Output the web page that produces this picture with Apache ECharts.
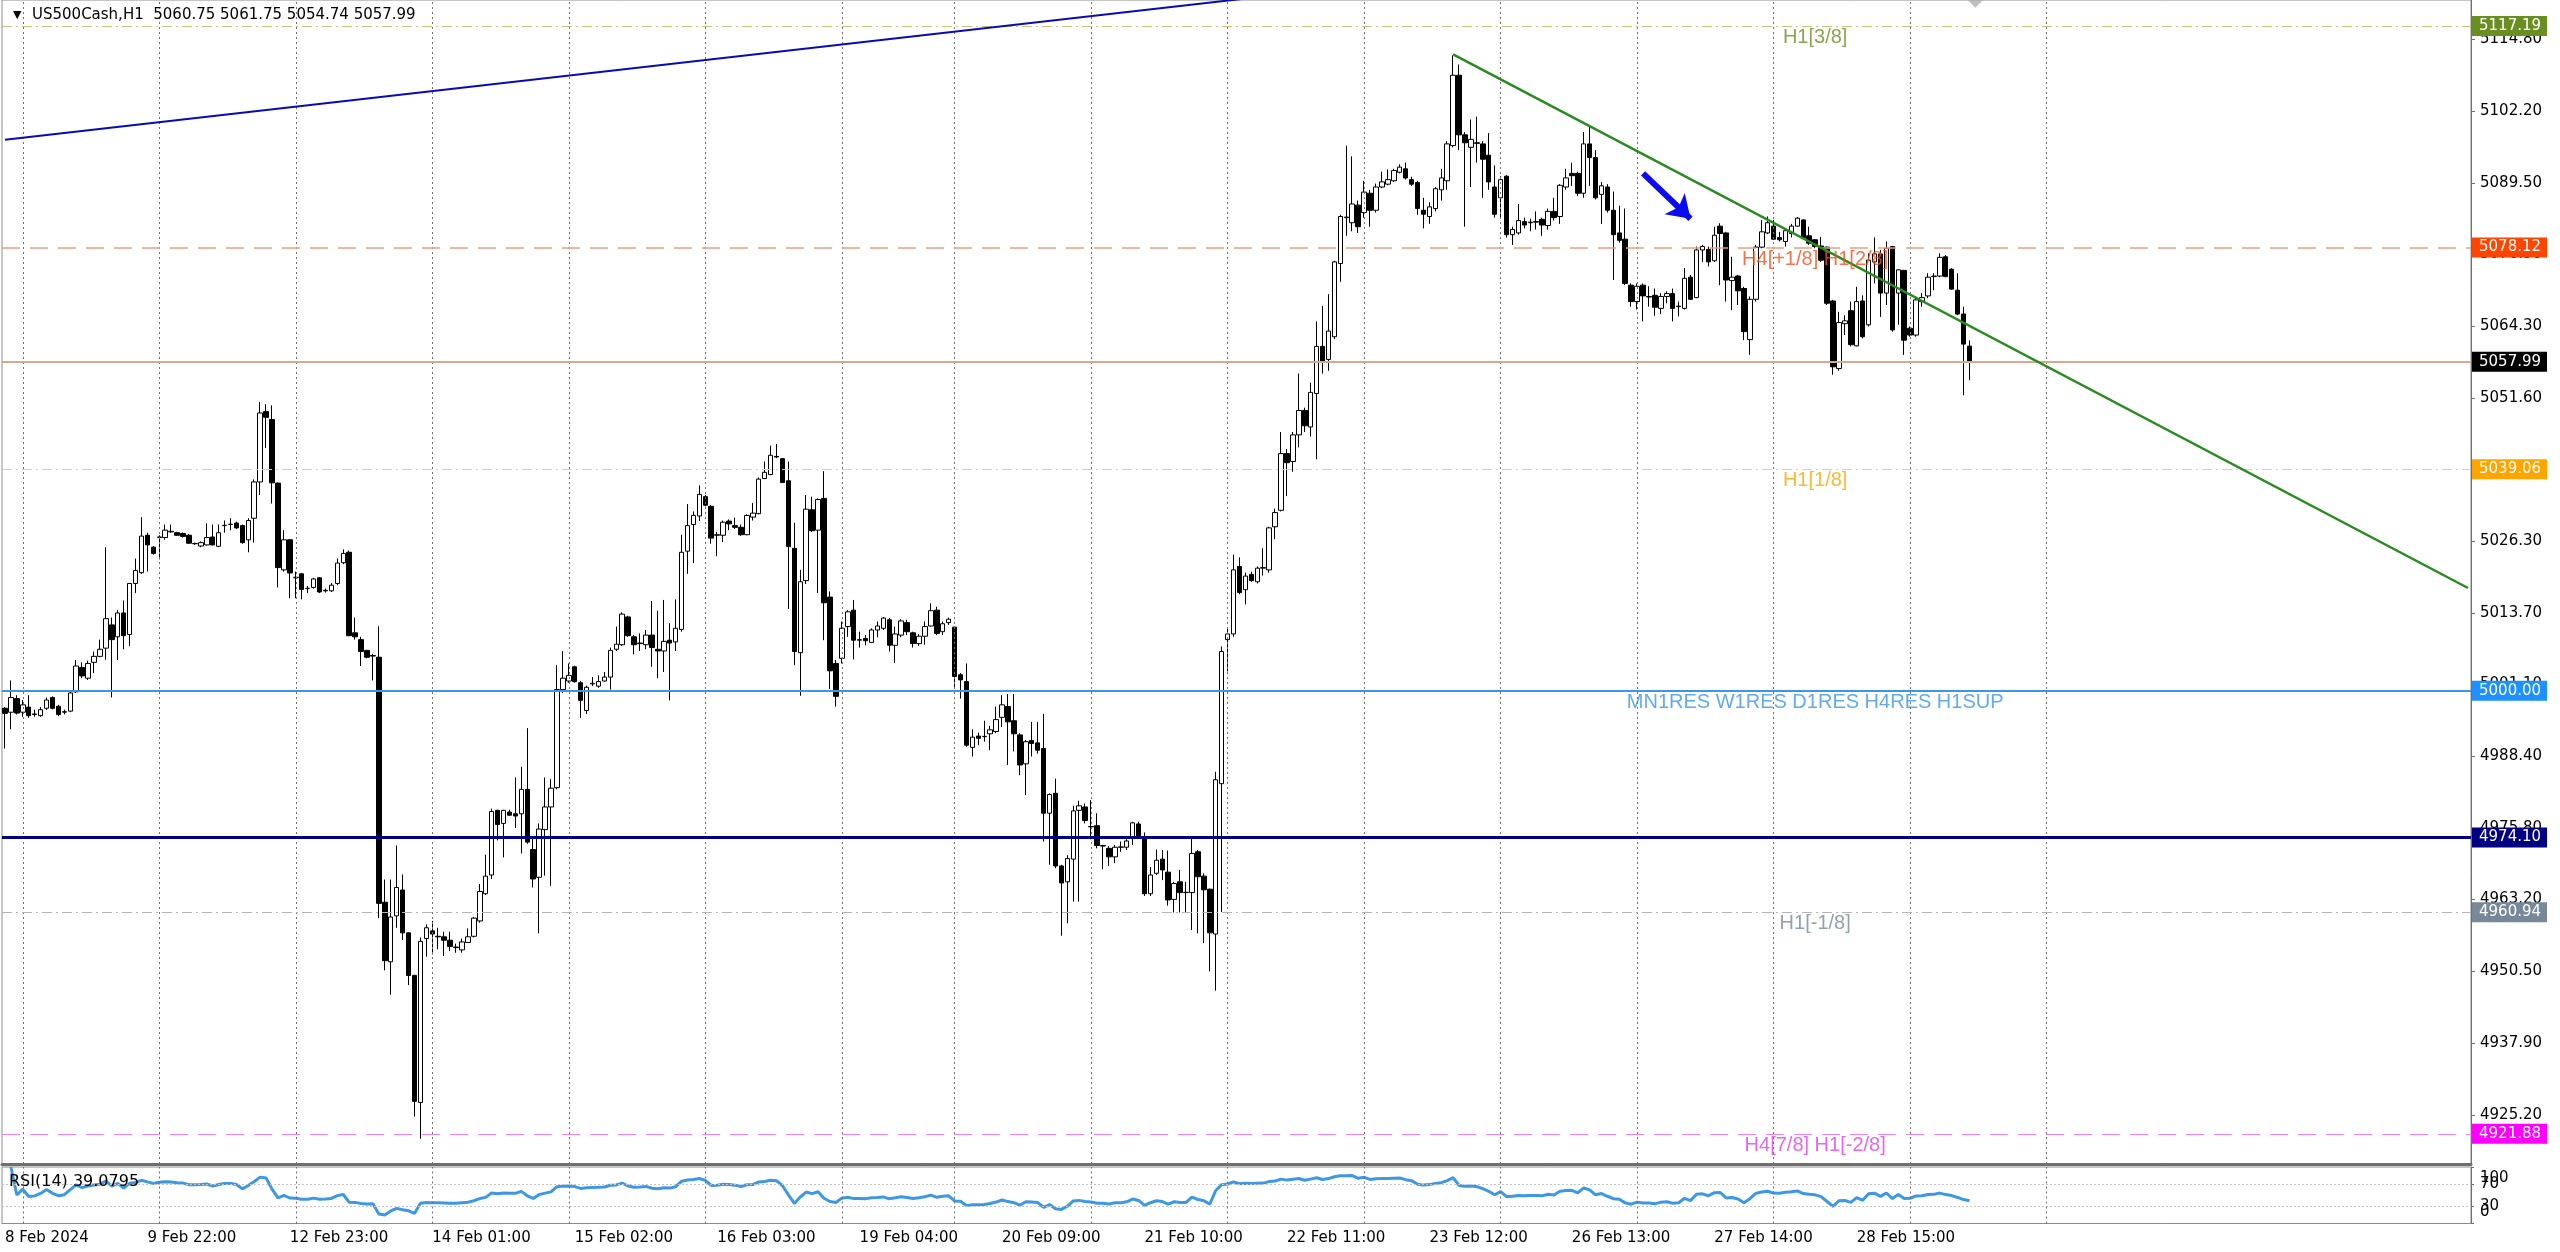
<!DOCTYPE html>
<html>
<head>
<meta charset="utf-8">
<script src="https://cdn.jsdelivr.net/npm/echarts@6/dist/echarts.min.js"></script>
<style>
html,body{margin:0;padding:0;background:#fff;}
#chart{width:2560px;height:1252px;}
</style>
</head>
<body>
<div id="chart"></div>
<script>
// ---------------- DATA ----------------
const symbolHeader = 'US500Cash,H1';
const rsiHeader = 'RSI(14) 39.0795';

const open = [
4996.9,4996.2,4998.6,4996.2,4997.1,4995.9,4995.6,4996.9,4998.8,4997.25,
4996.2,4996.4,4999.8,5004.1,5002.2,5005.0,5006.05,5007.5,5011.6,5009.5,
5013.7,5009.9,5018.9,5020.8,5027.4,5025.3,5027.0,5027.0,5028.0,5027.85,
5027.7,5027.4,5025.9,5025.5,5025.7,5027.1,5025.45,5029.1,5029.3,5029.55,
5029.1,5026.6,5030.4,5036.8,5049.2,5047.8,5036.6,5021.3,5026.6,5019.9,
5020.6,5018.0,5018.2,5019.9,5017.6,5017.6,5018.9,5022.55,5024.4,5010.2,
5009.0,5007.1,5006.2,5005.9,4962.7,4952.2,4960.3,4964.85,4957.3,4949.8,
4927.4,4956.3,4957.65,4956.7,4956.6,4956.0,4954.8,4954.3,4955.6,4956.7,
4959.4,4964.2,4967.5,4978.9,4976.6,4978.6,4978.3,4978.3,4982.6,4972.0,
4967.1,4975.5,4979.5,4982.9,5000.2,5001.7,5004.2,5001.4,4996.5,5001.2,
5000.8,5001.7,5002.4,5007.3,5008.1,5013.0,5009.5,5008.3,5008.1,5009.8,
5007.3,5007.0,5008.9,5008.6,5010.8,5024.6,5029.3,5030.8,5034.2,5032.5,
5027.4,5027.4,5029.9,5029.1,5028.8,5027.5,5030.6,5031.2,5037.4,5038.1,
5041.3,5040.9,5037.0,5025.1,5006.7,5019.4,5031.9,5028.3,5033.9,5016.5,
5004.8,5005.7,5011.3,5014.2,5008.9,5009.2,5008.5,5010.7,5011.0,5012.5,
5008.0,5009.8,5012.0,5010.2,5008.3,5009.6,5011.4,5014.2,5010.4,5012.0,
5011.2,5002.8,5001.6,4990.0,4992.0,4991.9,4992.4,4992.8,4995.3,4997.2,
4994.7,4992.2,4987.1,4991.2,4990.8,4989.8,4978.4,4981.9,4969.1,4966.3,
4970.3,4978.9,4979.5,4976.0,4976.2,4972.7,4972.2,4970.7,4972.4,4972.4,
4974.0,4976.5,4974.1,4964.2,4967.8,4970.3,4968.0,4963.2,4966.3,4964.4,
4964.4,4971.6,4967.3,4965.0,4957.1,4983.6,5009.0,5010.0,5021.9,5017.8,
5020.5,5019.2,5021.6,5021.3,5028.9,5031.8,5041.8,5040.4,5045.1,5049.4,
5046.5,5052.4,5060.7,5058.4,5062.4,5075.3,5083.4,5082.5,5085.6,5084.3,
5087.7,5084.7,5088.8,5089.3,5089.9,5091.4,5092.0,5090.1,5089.6,5084.7,
5083.6,5085.0,5088.3,5089.9,5096.1,5108.5,5098.0,5095.8,5096.6,5096.4,
5094.4,5088.8,5086.9,5090.7,5080.4,5080.7,5082.7,5082.5,5082.6,5083.1,
5082.0,5084.5,5083.6,5088.8,5091.2,5091.2,5087.7,5096.4,5094.0,5087.5,
5088.8,5084.7,5080.7,5079.6,5071.5,5068.6,5071.5,5069.5,5069.7,5067.4,
5069.5,5070.0,5067.7,5067.4,5072.9,5069.3,5077.7,5077.8,5075.8,5081.9,
5080.7,5072.3,5073.1,5070.9,5061.9,5069.0,5078.2,5080.7,5081.9,5079.9,
5079.2,5080.6,5081.9,5083.0,5080.2,5079.5,5078.4,5078.2,5068.7,5056.8,
5064.7,5067.0,5060.8,5068.7,5064.5,5075.6,5077.0,5070.1,5078.3,5070.1,
5074.1,5063.9,5062.7,5068.6,5069.6,5073.0,5073.1,5076.5,5074.3,5070.6,
5066.4,5060.75
];
const high = [
4997.1,5001.8,4999.2,4998.35,4999.2,4996.65,4997.1,4998.8,4999.0,4997.5,
4996.65,4999.8,5005.4,5005.0,5005.3,5006.9,5009.0,5025.3,5012.9,5014.2,
5015.9,5019.0,5023.3,5030.6,5027.85,5025.5,5027.4,5029.3,5029.3,5028.0,
5027.9,5027.6,5026.1,5026.3,5029.5,5029.3,5029.3,5030.0,5030.4,5029.8,
5029.3,5030.4,5037.25,5050.9,5050.5,5050.3,5036.7,5028.3,5026.7,5021.0,
5020.75,5018.45,5019.9,5020.0,5018.0,5019.0,5023.3,5024.9,5024.7,5012.9,
5009.5,5007.2,5006.5,5011.35,4966.7,4966.7,4972.7,4967.6,4957.4,4949.9,
4956.5,4958.8,4959.4,4958.2,4957.5,4957.5,4955.4,4956.3,4958.1,4960.1,
4965.9,4971.1,4979.2,4979.0,4979.0,4979.0,4984.7,4986.6,4993.4,4974.2,
4976.6,4984.7,4984.4,5004.5,5007.0,5004.8,5004.4,5001.7,5000.9,5002.4,
5002.7,5003.3,5007.6,5011.3,5013.8,5013.2,5009.8,5010.1,5010.7,5015.8,
5014.1,5016.0,5011.9,5016.1,5027.5,5032.9,5031.6,5036.2,5034.5,5032.7,
5028.0,5030.0,5030.2,5030.5,5029.3,5031.1,5033.1,5037.6,5040.4,5043.2,
5043.5,5041.0,5040.4,5029.6,5021.3,5034.5,5034.2,5033.9,5038.7,5017.5,
5005.4,5012.2,5014.2,5016.0,5010.4,5009.8,5011.0,5012.2,5013.0,5012.8,
5011.3,5012.6,5012.5,5010.4,5010.0,5012.2,5015.4,5014.8,5012.2,5012.9,
5011.3,5003.1,5004.8,4993.2,4992.6,4994.7,4993.8,4997.2,4999.2,4999.4,
4999.4,4992.5,4991.3,4994.5,4994.5,4995.9,4981.9,4984.5,4969.3,4971.0,
4979.7,4980.6,4980.1,4980.7,4978.4,4972.8,4972.6,4972.8,4973.4,4973.8,
4976.9,4976.9,4975.0,4968.9,4972.0,4971.9,4971.8,4966.3,4968.4,4966.3,
4974.0,4971.9,4967.8,4965.1,4985.7,5007.8,5011.0,5024.0,5023.5,5020.8,
5021.0,5021.9,5025.1,5028.9,5032.1,5045.6,5042.6,5045.6,5055.9,5049.9,
5054.3,5065.1,5067.8,5069.9,5075.8,5083.9,5096.1,5094.2,5086.4,5089.9,
5088.3,5089.4,5091.5,5091.9,5092.0,5092.8,5093.1,5090.6,5089.9,5086.9,
5086.1,5088.8,5092.0,5096.9,5112.0,5110.4,5098.5,5100.7,5101.2,5096.9,
5098.3,5092.6,5090.7,5090.9,5081.8,5085.8,5083.4,5083.2,5084.5,5083.4,
5085.0,5086.9,5089.3,5092.0,5093.1,5091.5,5098.5,5099.6,5095.3,5089.7,
5089.3,5088.0,5085.5,5085.0,5071.8,5071.8,5071.8,5071.3,5070.9,5070.1,
5070.4,5070.9,5068.6,5074.5,5073.3,5078.3,5078.6,5078.3,5081.8,5082.4,
5080.9,5076.5,5073.3,5071.2,5069.5,5078.6,5083.0,5083.6,5083.0,5080.9,
5081.5,5082.3,5083.5,5083.1,5081.8,5079.6,5080.0,5078.3,5068.9,5066.8,
5066.2,5068.6,5071.2,5069.7,5077.1,5079.9,5077.7,5079.2,5078.4,5074.3,
5074.2,5064.2,5069.5,5070.1,5073.6,5073.6,5077.1,5076.8,5074.5,5073.6,
5067.7,5061.75
];
const low = [
4989.8,4993.2,4995.8,4995.4,4995.2,4995.4,4995.4,4996.6,4996.7,4995.5,
4995.8,4996.2,4999.6,5002.2,5001.9,5003.1,5005.9,5005.45,4998.8,5005.4,
5007.3,5007.9,5017.2,5020.6,5021.0,5024.0,5023.15,5026.6,5027.85,5027.3,
5027.0,5025.9,5025.7,5025.3,5025.6,5025.6,5025.3,5027.85,5028.3,5028.5,
5025.9,5024.4,5026.1,5034.5,5042.8,5033.0,5018.2,5021.0,5016.3,5016.3,
5016.1,5017.2,5018.0,5017.2,5017.3,5017.4,5018.6,5022.3,5009.6,5009.0,
5004.35,5005.7,5001.8,4959.9,4950.7,4946.4,4958.2,4956.05,4948.1,4924.9,
4921.0,4953.1,4953.5,4954.4,4953.2,4954.1,4953.8,4953.8,4955.6,4956.5,
4959.1,4964.0,4966.8,4973.6,4970.6,4977.9,4975.8,4971.3,4973.0,4965.3,
4957.2,4967.4,4965.6,4982.6,4999.6,5001.4,5001.4,4995.2,4995.9,5000.8,
5000.5,5001.6,5000.2,5007.0,5007.9,5009.5,5006.4,5007.0,5007.3,5004.2,
5002.2,5003.3,4998.3,5007.0,5010.4,5020.6,5022.5,5029.9,5032.5,5025.9,
5023.7,5026.2,5028.3,5028.5,5027.3,5027.4,5030.0,5031.1,5037.3,5038.0,
5041.0,5036.6,5014.4,5004.5,4999.1,5018.8,5028.0,5017.2,5008.9,5000.3,
4997.2,5004.8,5009.5,5005.5,5007.6,5008.0,5008.4,5009.4,5010.7,5006.9,
5004.9,5009.4,5009.8,5007.6,5007.9,5008.1,5011.3,5009.8,5009.8,5011.6,
5000.4,4998.6,4990.1,4988.4,4990.4,4991.0,4989.5,4992.5,4993.6,4986.9,
4989.3,4985.1,4981.6,4988.4,4988.9,4973.4,4969.3,4968.7,4956.8,4959.0,
4962.8,4962.8,4976.6,4973.8,4972.2,4968.5,4969.1,4969.6,4971.6,4971.9,
4972.8,4974.2,4963.8,4963.8,4967.5,4966.6,4962.1,4960.9,4960.9,4960.8,
4957.8,4957.2,4955.5,4950.5,4947.1,4961.0,5003.4,5009.5,5017.0,5015.2,
5019.2,5018.9,5020.3,5020.8,5026.7,5031.6,5034.3,5038.6,5042.9,5045.6,
5044.8,5040.8,5055.9,5056.4,5062.0,5072.1,5080.2,5081.0,5080.7,5083.4,
5081.8,5084.3,5088.6,5089.1,5089.7,5091.2,5090.1,5089.0,5083.9,5081.5,
5082.3,5084.5,5086.4,5088.3,5095.8,5095.3,5081.8,5088.8,5093.1,5086.9,
5088.3,5083.4,5083.4,5079.9,5078.6,5080.4,5081.5,5081.0,5081.3,5080.2,
5081.3,5082.9,5082.3,5088.3,5089.0,5087.2,5086.9,5089.0,5086.6,5082.3,
5084.3,5072.4,5079.0,5071.5,5067.7,5067.2,5065.1,5067.7,5066.1,5066.4,
5068.3,5065.1,5066.0,5067.2,5068.9,5069.2,5075.6,5074.8,5075.6,5071.5,
5068.6,5067.1,5068.0,5061.8,5059.2,5068.6,5078.0,5080.5,5079.5,5079.2,
5078.3,5079.9,5081.8,5079.7,5078.6,5078.0,5075.6,5068.0,5055.7,5056.4,
5062.7,5060.7,5060.7,5062.1,5064.2,5071.8,5065.9,5068.0,5063.3,5064.5,
5059.2,5062.4,5062.4,5067.7,5069.2,5070.6,5072.9,5072.9,5070.7,5066.2,
5052.1,5054.74
];
const close = [
4996.0,4998.8,4996.05,4997.5,4995.6,4995.8,4996.65,4998.35,4996.9,4995.8,
4996.3,4999.6,5004.35,5002.6,5004.8,5006.05,5007.3,5012.7,5009.0,5013.7,
5009.7,5018.9,5021.2,5027.25,5025.7,5024.2,5027.1,5028.3,5028.1,5027.4,
5027.2,5026.0,5025.95,5026.1,5027.0,5025.7,5027.85,5029.15,5029.35,5028.7,
5026.1,5030.0,5036.8,5048.96,5048.2,5036.65,5021.7,5026.6,5020.75,5020.0,
5017.85,5018.05,5019.7,5017.4,5017.7,5018.6,5022.5,5024.2,5009.7,5009.5,
5006.9,5005.9,5006.1,4962.5,4952.4,4960.1,4965.3,4957.3,4949.8,4927.6,
4955.8,4958.2,4957.1,4956.6,4956.0,4954.9,4954.7,4955.7,4956.6,4959.9,
4964.6,4967.3,4978.7,4976.4,4978.9,4978.05,4977.9,4982.6,4973.3,4966.8,
4975.6,4979.5,4982.8,5000.2,5002.2,5002.7,5001.6,4998.3,5000.6,5001.3,
5001.6,5002.4,5007.1,5008.2,5013.5,5009.7,5008.1,5008.4,5009.8,5007.6,
5007.0,5008.7,5008.4,5011.0,5024.4,5029.1,5030.9,5034.6,5032.7,5026.9,
5027.5,5029.7,5029.4,5028.8,5027.5,5030.9,5031.3,5037.3,5038.5,5041.5,
5041.2,5036.7,5025.4,5006.9,5019.2,5032.0,5028.2,5033.7,5015.5,5003.5,
4999.0,5011.0,5013.9,5008.9,5009.0,5008.8,5010.7,5011.4,5012.8,5008.0,
5010.0,5012.3,5010.4,5008.3,5009.6,5011.3,5014.1,5010.1,5011.8,5012.6,
5002.5,5001.9,4990.4,4991.8,4991.6,4991.95,4993.1,4994.9,4997.5,4994.5,
4992.4,4986.9,4991.0,4990.7,4989.5,4978.4,4981.7,4969.1,4966.1,4970.4,
4978.8,4979.7,4977.1,4976.05,4972.7,4972.6,4970.7,4972.4,4972.45,4973.5,
4976.7,4974.4,4964.2,4967.5,4970.1,4968.4,4963.1,4966.0,4964.4,4964.45,
4971.3,4967.2,4964.9,4957.3,4984.3,5006.9,5010.0,5021.3,5017.3,5020.2,
5019.4,5021.6,5021.7,5028.7,5031.4,5041.8,5040.2,5045.1,5049.4,5046.7,
5052.6,5060.7,5058.0,5063.4,5075.6,5083.6,5083.5,5085.8,5081.8,5087.9,
5084.7,5088.8,5089.7,5090.1,5091.7,5092.3,5090.4,5089.3,5085.0,5084.0,
5085.3,5088.5,5090.4,5096.4,5108.5,5098.0,5096.6,5097.2,5096.5,5093.7,
5089.7,5084.0,5090.1,5080.4,5081.3,5082.9,5082.1,5082.6,5082.7,5082.1,
5084.5,5083.4,5089.1,5090.4,5090.8,5087.7,5096.4,5094.0,5086.9,5089.0,
5084.7,5080.4,5079.4,5071.8,5068.6,5071.3,5069.6,5069.4,5067.6,5069.5,
5070.0,5067.4,5067.8,5072.7,5069.0,5077.7,5078.3,5075.6,5080.3,5080.6,
5072.4,5072.9,5070.5,5063.3,5069.0,5078.2,5080.9,5082.5,5079.6,5079.5,
5081.1,5081.9,5083.3,5079.9,5078.9,5078.3,5075.9,5068.3,5057.1,5064.9,
5065.2,5061.0,5068.6,5062.4,5075.9,5077.0,5070.1,5078.0,5063.6,5074.2,
5061.8,5062.7,5068.9,5069.3,5072.9,5073.1,5076.4,5073.0,5070.8,5066.4,
5061.1,5057.99
];

// time axis labels (one every 24 bars) and vertical grid-line bar positions
const timeLabels = ['8 Feb 2024','9 Feb 22:00','12 Feb 23:00','14 Feb 01:00','15 Feb 02:00',
  '16 Feb 03:00','19 Feb 04:00','20 Feb 09:00','21 Feb 10:00','22 Feb 11:00',
  '23 Feb 12:00','26 Feb 13:00','27 Feb 14:00','28 Feb 15:00'];
const labelEvery = 24;
const gridLineBars = [3,26,49,72,95,118,141,160,183,206,229,252,275,298,321,344];
const totalSlots = 416;

// price axis tick labels
const priceTicks = [4925.20,4937.90,4950.50,4963.20,4975.80,4988.40,5001.10,5013.70,
  5026.30,5038.90,5051.60,5064.30,5076.90,5089.50,5102.20,5114.80];
// RSI window scale: tick values; level labels 30/70 on their lines,
// 0/100 printed by MT4 squeezed next to them
const rsiTicks = [0,30,70,100];
const rsiLevels = [30,70];
const rsiEdgeText = ['0','100'];
const rsiEdgeTextAt = [20,81];

// horizontal levels
const levelValues = [5117.19,5078.12,5057.99,5039.06,5000.00,4974.10,4960.94,4921.88];
const levelNotes  = ['H1[3/8]','H4[+1/8] H1[2/8]','','H1[1/8]','MN1RES W1RES D1RES H4RES H1SUP','','H1[-1/8]','H4[7/8] H1[-2/8]'];
const noteBar = 305;

// drawn trendlines [barIndex, price]
const blueLine  = [[0,5097.12],[240,5125.72]];
const greenLine = [[244,5112.2],[415,5018.1]];
const arrowLine = [[276,5091.2],[284,5083.2]];
const diamondPt = [[332,5122.0]];

// ---------------- STYLES ----------------
const levelStyles = [
  {line:'#c8c27a', type:[10,4,2,4], w:1, box:'#6b8e23', note:'#6b8e23'},
  {line:'#e9a07e', type:[18,10], w:1.5, box:'#ff4500', note:'#f0501e'},
  {line:'#d9a891', type:'solid', w:2, box:'#000000', note:'#000'},
  {line:'#ead08a', type:[10,4,2,4], w:1, box:'#ffa500', note:'#ffa500'},
  {line:'#3a96e8', type:'solid', w:2, box:'#1e90ff', note:'#3a96e8'},
  {line:'#000080', type:'solid', w:3, box:'#000080', note:'#000080'},
  {line:'#b4b4b4', type:[10,4,2,4], w:1, box:'#778899', note:'#7a8796'},
  {line:'#ee82ee', type:[18,10], w:1, box:'#ff00ff', note:'#e040e0'}
];

// ---------------- BUILD ----------------
const slots = Array.from({length: totalSlots}, (_, i) => String(i));
const candleData = open.map((o, i) => [o, close[i], low[i], high[i]]);

// RSI(14), Wilder smoothing, from the closes above
const rsiData = [null];
(function(){
  let ag = 0, al = 0; const n = 14;
  for (let i = 1; i < close.length; i++) {
    const ch = close[i] - close[i-1];
    const g = ch > 0 ? ch : 0, l = ch < 0 ? -ch : 0;
    const k = Math.min(i, n);
    ag = (ag * (k - 1) + g) / k;
    al = (al * (k - 1) + l) / k;
    rsiData.push(al === 0 ? 100 : 100 - 100 / (1 + ag / al));
  }
})();

const FONT = 'DejaVu Sans';
const vGrid = gridLineBars.map(b => ({xAxis: b}));
const vGridStyle = {color:'#6e6e6e', type:[2,3], width:1};

const chart = echarts.init(document.getElementById('chart'), null, {renderer:'canvas'});
chart.setOption({
  animation: false,
  backgroundColor: '#ffffff',
  title: [
    {text:'▼', left:8, top:5, textStyle:{fontFamily:FONT, fontSize:11, color:'#000', fontWeight:'normal'}},
    {text: symbolHeader + '  ' + [open[open.length-1], high[high.length-1], low[low.length-1], close[close.length-1]].map(v=>v.toFixed(2)).join(' '),
     left:27, top:3, textStyle:{fontFamily:FONT, fontSize:15, color:'#000', fontWeight:'normal'}},
    {text: rsiHeader, left:4, top:1169, textStyle:{fontFamily:FONT, fontSize:16, color:'#000', fontWeight:'normal'}}
  ],
  grid: [
    {left:2, right:89, top:0, height:1164, show:true, borderColor:'#8c8c8c', borderWidth:1, backgroundColor:'transparent'},
    {left:2, right:89, top:1167, height:56.5, show:true, borderColor:'#8c8c8c', borderWidth:1, backgroundColor:'transparent'}
  ],
  xAxis: [
    {type:'category', gridIndex:0, data:slots, boundaryGap:true,
     axisLine:{show:true, onZero:false, lineStyle:{color:'#6f6f6f', width:3}},
     axisTick:{show:false}, axisLabel:{show:false}, splitLine:{show:false}},
    {type:'category', gridIndex:1, data:slots, boundaryGap:true,
     axisLine:{show:true, onZero:false, lineStyle:{color:'#8c8c8c', width:1}},
     axisTick:{show:false}, splitLine:{show:false},
     axisLabel:{show:true, interval: labelEvery - 1, align:'left', margin:7,
       fontFamily:FONT, fontSize:15, color:'#000',
       formatter:(v, idx) => (idx % labelEvery === 0 && timeLabels[idx / labelEvery]) ? timeLabels[idx / labelEvery] : ''}}
  ],
  yAxis: [
    {type:'value', gridIndex:0, position:'right', min:4916.55, max:5121.77, scale:true,
     splitLine:{show:false},
     axisLine:{show:true, lineStyle:{color:'#6f6f6f'}},
     axisTick:{show:true, customValues:priceTicks, length:4, lineStyle:{color:'#6f6f6f'}},
     axisLabel:{show:true, customValues:priceTicks, margin:9, fontFamily:FONT, fontSize:15, color:'#000',
       hideOverlap:false, formatter:v => Number(v).toFixed(2)}},
    {type:'value', gridIndex:1, position:'right', min:0, max:100,
     splitLine:{show:false},
     axisLine:{show:true, lineStyle:{color:'#6f6f6f'}},
     axisTick:{show:true, customValues:rsiTicks, length:3, lineStyle:{color:'#6f6f6f'}},
     axisLabel:{show:true, customValues:rsiLevels, margin:9, fontFamily:FONT, fontSize:15, color:'#000',
       hideOverlap:false, formatter:v => String(Math.round(Number(v)))}},
    {type:'value', gridIndex:1, position:'right', min:0, max:100,
     splitLine:{show:false}, axisLine:{show:false}, axisTick:{show:false},
     axisLabel:{show:true, customValues:rsiEdgeTextAt, margin:9, fontFamily:FONT, fontSize:15, color:'#000',
       hideOverlap:false,
       formatter:v => { const k = rsiEdgeTextAt.indexOf(Math.round(Number(v))); return k >= 0 ? rsiEdgeText[k] : ''; }}}
  ],
  series: [
    {name:'vgrid', type:'line', xAxisIndex:0, yAxisIndex:0, data:[], z:1, silent:true,
     markLine:{silent:true, symbol:['none','none'], label:{show:false}, lineStyle:vGridStyle, data:vGrid}},
    {name:'US500Cash', type:'candlestick', xAxisIndex:0, yAxisIndex:0, data:candleData, barWidth:5, z:3,
     itemStyle:{color:'#ffffff', color0:'#000000', borderColor:'#000000', borderColor0:'#000000', borderWidth:1}},
    {name:'levels', type:'line', xAxisIndex:0, yAxisIndex:0, data:[], z:4, silent:true,
     markLine:{silent:true, symbol:['none','none'], precision:2,
       data: levelValues.map((v, i) => ({
         yAxis: v,
         lineStyle:{color:levelStyles[i].line, type:levelStyles[i].type, width:levelStyles[i].w},
         label:{show:true, position:'end', distance:1, formatter: v.toFixed(2),
           backgroundColor:levelStyles[i].box, color:'#ffffff', fontFamily:FONT, fontSize:15,
           padding:[2,6,1,7], lineHeight:17}
       }))}},
    {name:'blueTrend', type:'line', xAxisIndex:0, yAxisIndex:0, data:blueLine, symbol:'none', z:5, clip:true,
     lineStyle:{color:'#0a0ab4', width:2}},
    {name:'greenTrend', type:'line', xAxisIndex:0, yAxisIndex:0, data:greenLine, symbol:'none', z:5, clip:true,
     lineStyle:{color:'#2a8a22', width:2.5}},
    {name:'arrow', type:'line', xAxisIndex:0, yAxisIndex:0, data:[], z:6, silent:true,
     markLine:{silent:true, symbol:['none','arrow'], symbolSize:[22,22], label:{show:false},
       lineStyle:{color:'#0b0bf0', width:6, type:'solid'},
       data:[[{coord:arrowLine[0]},{coord:arrowLine[1]}]]}},
    {name:'notes', type:'scatter', xAxisIndex:0, yAxisIndex:0, symbolSize:1, z:6, silent:true,
     itemStyle:{color:'rgba(0,0,0,0)'},
     data: levelValues.map((v, i) => ({value:[noteBar, v], name:levelNotes[i],
       label:{show: levelNotes[i] !== '', position:'bottom', distance:1, formatter:'{b}',
         color:levelStyles[i].note, fontFamily:'Liberation Sans', fontSize:20}}))},
    {name:'marker', type:'scatter', xAxisIndex:0, yAxisIndex:0, data:diamondPt, symbol:'diamond', symbolSize:18, z:6, clip:false,
     itemStyle:{color:'#b0b0b0'}},
    {name:'RSI', type:'line', xAxisIndex:1, yAxisIndex:1, data:rsiData, symbol:'none', z:3,
     lineStyle:{color:'#3d98e3', width:3},
     markLine:{silent:true, symbol:['none','none'], label:{show:false},
       data:[...rsiLevels.map(v => ({yAxis:v, lineStyle:{color:'#c4c4c4', type:[2,2], width:1}})),
             ...gridLineBars.map(b => ({xAxis:b, lineStyle:vGridStyle}))]}}
  ]
});
</script>
</body>
</html>
